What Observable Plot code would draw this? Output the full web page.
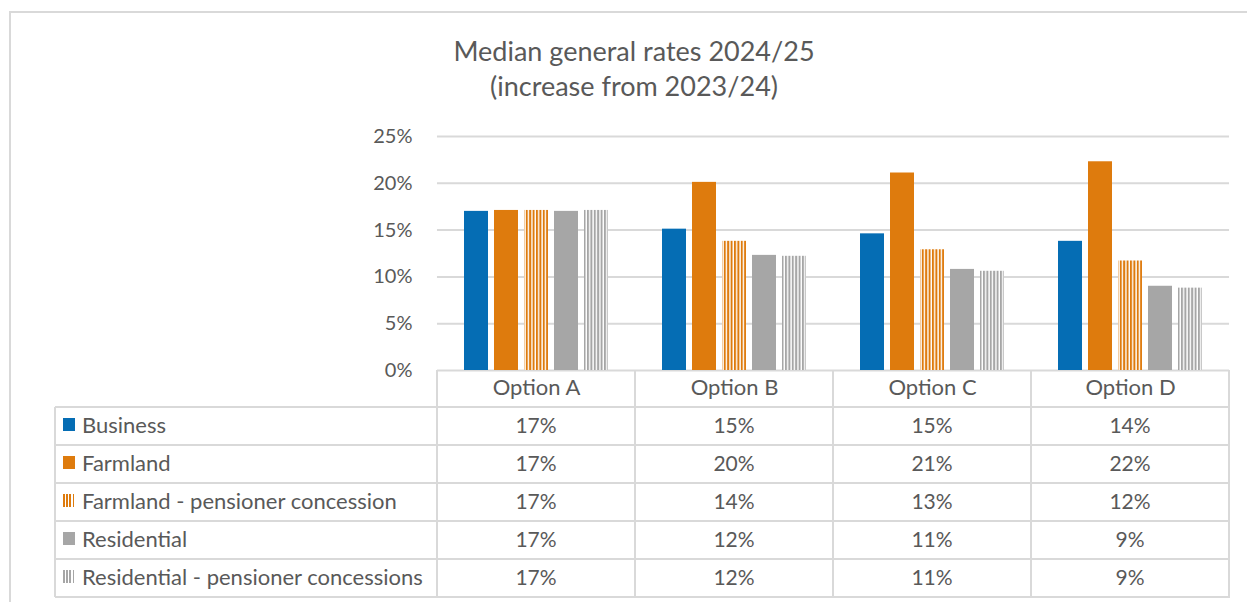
<!DOCTYPE html>
<html>
<head>
<meta charset="utf-8">
<script src="https://cdn.jsdelivr.net/npm/d3@7"></script>
<script src="https://cdn.jsdelivr.net/npm/@observablehq/plot@0.6"></script>
<style>
  html, body { margin: 0; padding: 0; background: #fff; }
  #wrap { position: relative; width: 1247px; height: 602px; overflow: hidden; font-family: Lato, "Open Sans", sans-serif; color: #595959; }
  #frame { position: absolute; left: 9px; top: 11px; width: 1300px; height: 700px; border-left: 2px solid #d9d9d9; border-top: 2px solid #d9d9d9; }
  #title { position: absolute; left: 334px; width: 600px; top: 33px; text-align: center; font-size: 27px; line-height: 35px; }
  #chart { position: absolute; left: 0; top: 120px; }
  .hl, .vl { position: absolute; background: #d9d9d9; }
  .cell { position: absolute; display: flex; align-items: center; font-size: 22px; white-space: nowrap; box-sizing: border-box; padding-bottom: 3px; }
  .num { justify-content: center; font-size: 21px; }
  .key { display: inline-block; width: 12px; height: 13px; margin-right: 7px; }
</style>
</head>
<body>
<div id="wrap">
  <div id="frame"></div>
  <div id="title">Median general rates 2024/25<br>(increase from 2023/24)</div>
  <div id="chart"></div>
</div>
<script>
// ---- data ----
const options = ["Option A", "Option B", "Option C", "Option D"];
const series = ["Business", "Farmland", "Farmland - pensioner concession", "Residential", "Residential - pensioner concessions"];
const business           = [17.0, 15.1, 14.6, 13.8];
const farmland           = [17.1, 20.1, 21.1, 22.3];
const farmlandPension    = [17.1, 13.8, 12.9, 11.7];
const residential        = [17.0, 12.3, 10.8, 9.0];
const residentialPension = [17.1, 12.2, 10.6, 8.8];
const yTicks = [0, 5, 10, 15, 20, 25];

const values = [business, farmland, farmlandPension, residential, residentialPension];
const data = options.flatMap((o, i) => series.map((s, j) => ({option: o, series: s, value: values[j][i]})));

// ---- styles ----
const BLUE = "#056db4", ORANGE = "#de7b0d", GRAY = "#a6a6a6";
const baseColor = {[series[0]]: BLUE, [series[1]]: ORANGE, [series[2]]: ORANGE, [series[3]]: GRAY, [series[4]]: GRAY};
const striped = {[series[2]]: true, [series[4]]: true};
const patId = {[series[2]]: "patFarm", [series[4]]: "patRes"};
const paint = s => striped[s] ? `url(#${patId[s]})` : baseColor[s];

const W = 1247, H = 287, MT = 16, MB = 37, ML = 437, MR = 18;
const FONT = "Lato, 'Open Sans', sans-serif";
const FX_INNER = 0.263, FX_OUTER = FX_INNER / 2;
// half of the gap between facet groups, so gridlines run continuously across groups
const halfGap = ((W - ML - MR) / options.length) * FX_INNER / 2;

const chart = Plot.plot({
  width: W, height: H,
  marginTop: MT, marginBottom: MB, marginLeft: ML, marginRight: MR,
  style: {fontFamily: FONT, fontSize: "22px", color: "#595959", background: "transparent", overflow: "visible"},
  fx: {domain: options, paddingInner: FX_INNER, paddingOuter: FX_OUTER, label: null, tickSize: 0, tickPadding: 9, axis: "bottom"},
  x: {domain: series, paddingInner: 0.21, paddingOuter: 0, axis: null},
  y: {domain: [0, 25], axis: null},
  color: {type: "identity"},
  marks: [
    Plot.ruleY(yTicks, {stroke: "#d9d9d9", strokeWidth: 2, insetLeft: -halfGap, insetRight: -halfGap}),
    Plot.barY(data, {fx: "option", x: "series", y: "value", fill: d => paint(d.series)}),
    Plot.axisY(yTicks, {tickFormat: d => d + "%", tickSize: 0, tickPadding: 51, label: null, fontSize: 20})
  ]
});

// patterns
const svg = d3.select(chart);
const defs = svg.insert("defs", ":first-child");
for (const s of [series[2], series[4]]) {
  const p = defs.append("pattern").attr("id", patId[s]).attr("patternUnits", "userSpaceOnUse")
    .attr("width", 3.4).attr("height", 10);
  p.append("rect").attr("width", 3.4).attr("height", 10).attr("fill", "#fff");
  p.append("rect").attr("width", 2).attr("height", 10).attr("fill", baseColor[s]);
}
document.getElementById("chart").appendChild(chart);

// ---- data table ----
const wrap = document.getElementById("wrap");
const fx = chart.scale("fx");
const gap = (fx.step - fx.bandwidth) / 2;
const bounds = options.map(o => fx.apply(o) - gap);
bounds.push(bounds[bounds.length - 1] + fx.step);
const tableLeft = 55;
const top0 = 120 + H - MB;           // y of 0% baseline
const headerH = 37, rowH = 38;
const rowTops = series.map((_, i) => top0 + headerH + i * rowH);
const bottom = top0 + headerH + series.length * rowH;
const LW = 2;

function el(cls, css, html) {
  const d = document.createElement("div");
  d.className = cls;
  Object.assign(d.style, css);
  if (html !== undefined) d.innerHTML = html;
  wrap.appendChild(d);
  return d;
}
for (const y of [...rowTops, bottom]) {
  el("hl", {left: tableLeft + "px", top: (y - LW / 2) + "px", width: (bounds[bounds.length - 1] - tableLeft + LW / 2) + "px", height: LW + "px"});
}
el("vl", {left: (tableLeft - LW / 2) + "px", top: rowTops[0] + "px", width: LW + "px", height: (bottom - rowTops[0]) + "px"});
for (const x of bounds) {
  el("vl", {left: (x - LW / 2) + "px", top: top0 + "px", width: LW + "px", height: (bottom - top0) + "px"});
}
series.forEach((s, j) => {
  const key = striped[s]
    ? `<span class="key" style="background: repeating-linear-gradient(90deg, ${baseColor[s]} 0 1.6px, #fff 1.6px 3.2px)"></span>`
    : `<span class="key" style="background:${baseColor[s]}"></span>`;
  el("cell", {left: (tableLeft + 8) + "px", top: rowTops[j] + "px", height: rowH + "px"}, key + s);
  options.forEach((o, i) => {
    el("cell num", {left: bounds[i] + "px", width: (bounds[i + 1] - bounds[i]) + "px", top: rowTops[j] + "px", height: rowH + "px"},
      Math.round(values[j][i]) + "%");
  });
});
</script>
</body>
</html>
